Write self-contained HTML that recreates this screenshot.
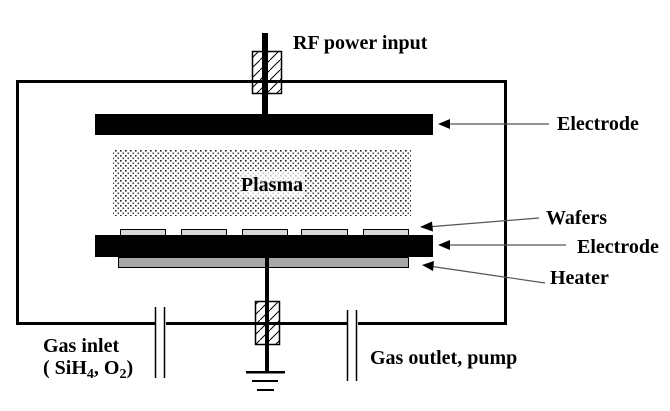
<!DOCTYPE html>
<html><head><style>
html,body{margin:0;padding:0;background:#fff;}
svg{display:block;}
text{font-family:"Liberation Serif",serif;font-weight:bold;fill:#000;}
</style></head><body>
<svg width="670" height="411" viewBox="0 0 670 411" xmlns="http://www.w3.org/2000/svg">
<defs>
<pattern id="dots" width="5" height="5" patternUnits="userSpaceOnUse">
<rect x="0" y="0" width="1.6" height="1.6" fill="#222"/>
<rect x="2.5" y="2.5" width="1.6" height="1.6" fill="#444"/>
</pattern>
<pattern id="hatch" width="10" height="10" patternUnits="userSpaceOnUse">
<path d="M0,10 L10,0" stroke="#000" stroke-width="1"/>
</pattern>
</defs>
<rect x="17.5" y="81.5" width="488" height="242" fill="none" stroke="#000" stroke-width="3"/>
<rect x="155" y="318" width="11" height="10" fill="#fff"/>
<rect x="347" y="318" width="11" height="10" fill="#fff"/>
<g stroke="#000" stroke-width="1.5">
<line x1="155.5" y1="307" x2="155.5" y2="378"/>
<line x1="164.5" y1="307" x2="164.5" y2="378"/>
<line x1="347.5" y1="310" x2="347.5" y2="381"/>
<line x1="356.5" y1="310" x2="356.5" y2="381"/>
</g>
<rect x="262" y="33" width="6" height="82" fill="#000"/>
<rect x="252.5" y="51.5" width="29" height="42" fill="url(#hatch)" stroke="#000" stroke-width="1.5"/>
<rect x="262" y="51" width="6" height="43" fill="#000"/>
<rect x="95" y="114" width="338" height="21" fill="#000"/>
<rect x="113" y="150" width="298" height="66" fill="url(#dots)"/>
<rect x="240" y="171" width="64" height="26" fill="#fff" opacity="0.7"/>
<text x="272" y="191" font-size="20" text-anchor="middle">Plasma</text>
<g fill="#d8d8d8" stroke="#000" stroke-width="1">
<rect x="120.5" y="229.5" width="45" height="7"/>
<rect x="181.5" y="229.5" width="45" height="7"/>
<rect x="242.5" y="229.5" width="45" height="7"/>
<rect x="301.5" y="229.5" width="46" height="7"/>
<rect x="363.5" y="229.5" width="45" height="7"/>
</g>
<rect x="95" y="235" width="338" height="22" fill="#000"/>
<rect x="118.5" y="257.5" width="290" height="10" fill="#a8a8a8" stroke="#000" stroke-width="1"/>
<rect x="265" y="257" width="4" height="116" fill="#000"/>
<rect x="255.5" y="301.5" width="24" height="43" fill="url(#hatch)" stroke="#000" stroke-width="1.5"/>
<rect x="265" y="301" width="4" height="44" fill="#000"/>
<rect x="246" y="371" width="39" height="2.5" fill="#000"/>
<rect x="252" y="380" width="26" height="2" fill="#000"/>
<rect x="257" y="389" width="17" height="2" fill="#000"/>
<g stroke="#555" stroke-width="1.2">
<line x1="446" y1="124" x2="549" y2="124"/>
<line x1="427" y1="227" x2="539" y2="218"/>
<line x1="446" y1="245" x2="566" y2="245"/>
<line x1="429" y1="266" x2="545" y2="283"/>
</g>
<g fill="#000">
<polygon points="438,124 450,119 450,129"/>
<polygon points="420,227 432,221.5 433,231.5"/>
<polygon points="438,245 450,240 450,250"/>
<polygon points="422,265 434,261 433,271"/>
</g>
<text x="293" y="49" font-size="20">RF power input</text>
<text x="557" y="130" font-size="20">Electrode</text>
<text x="546" y="224" font-size="20">Wafers</text>
<text x="577" y="253" font-size="20">Electrode</text>
<text x="550" y="284" font-size="20">Heater</text>
<text x="43" y="352" font-size="20">Gas inlet</text>
<text x="43" y="374" font-size="20">( SiH<tspan font-size="14" dy="4">4</tspan><tspan dy="-4">, O</tspan><tspan font-size="14" dy="4">2</tspan><tspan dy="-4">)</tspan></text>
<text x="370" y="364" font-size="20">Gas outlet, pump</text>
</svg>
</body></html>
